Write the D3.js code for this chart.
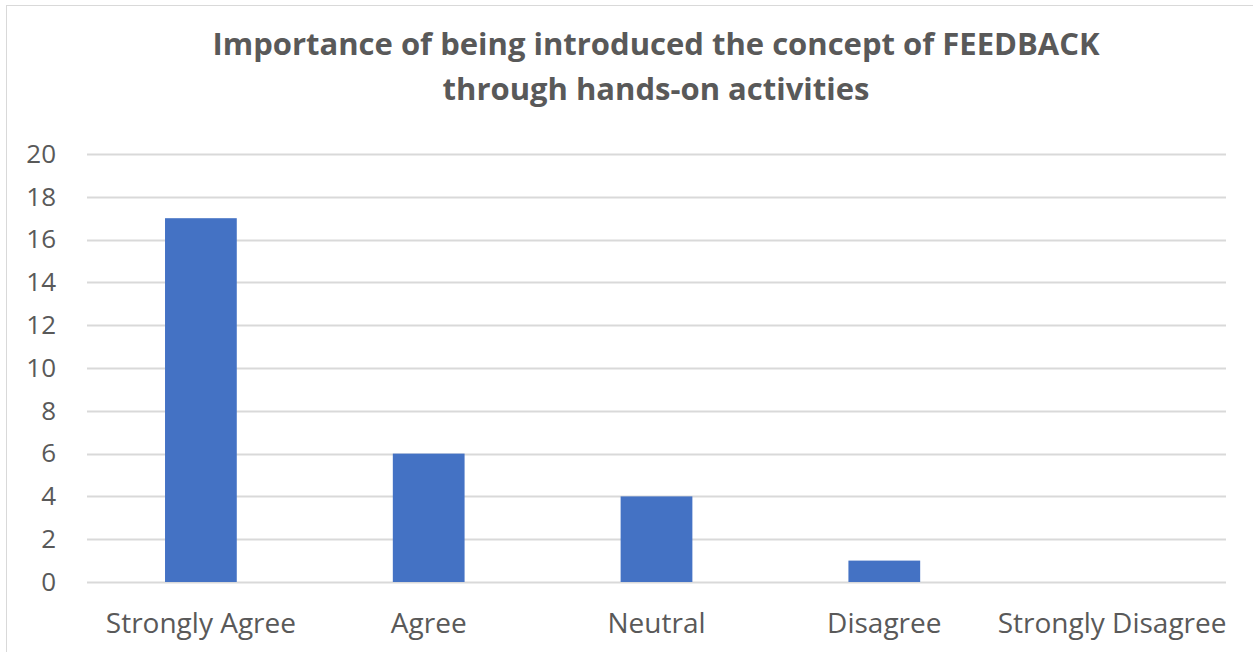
<!DOCTYPE html>
<html>
<head>
<meta charset="utf-8">
<script src="https://cdn.jsdelivr.net/npm/d3@7"></script>
<style>
  html, body { margin: 0; padding: 0; background: #fff; }
  svg { display: block; font-family: "Open Sans", sans-serif; }
</style>
</head>
<body>
<script>
const categories = ["Strongly Agree", "Agree", "Neutral", "Disagree", "Strongly Disagree"];
const counts = [17, 6, 4, 1, 0];
const yTicks = [0, 2, 4, 6, 8, 10, 12, 14, 16, 18, 20];
const titleLines = ["Importance of being introduced the concept of FEEDBACK", "through hands-on activities"];

const width = 1253, height = 652;
const margin = {l: 87, r: 27, t: 154, b: 70};

let svg = d3.select("body").append("svg")
  .attr("width", width)
  .attr("height", height);

// chart border
svg.append("rect")
  .attr("x", 6.5).attr("y", 5.5)
  .attr("width", width).attr("height", height)
  .attr("fill", "none")
  .attr("stroke", "#d9d9d9");

let x = d3.scaleBand().domain(categories)
  .range([margin.l, width - margin.r])
  .paddingInner(0.685).paddingOuter(0.3425);

let y = d3.scaleLinear().domain([0, 20])
  .range([height - margin.b, margin.t]);

// gridlines
svg.append("g")
  .selectAll("line")
  .data(yTicks)
  .join("line")
  .attr("x1", margin.l).attr("x2", width - margin.r)
  .attr("y1", d => Math.round(y(d)) + 0.5)
  .attr("y2", d => Math.round(y(d)) + 0.5)
  .attr("stroke", "#d9d9d9")
  .attr("stroke-width", 2);

// bars
svg.append("g")
  .selectAll("rect")
  .data(counts)
  .join("rect")
  .attr("x", (d, i) => x(categories[i]))
  .attr("y", d => y(d))
  .attr("width", x.bandwidth())
  .attr("height", d => y(0) - y(d))
  .attr("fill", "#4472c4");

// y labels
let yAxis = svg.append("g")
  .attr("transform", `translate(${margin.l - 31},0)`)
  .call(d3.axisLeft(y).tickValues(yTicks).tickSize(0).tickPadding(0));
yAxis.select(".domain").remove();
yAxis.selectAll("text")
  .attr("font-size", 26)
  .attr("font-family", "Open Sans, sans-serif")
  .attr("fill", "#595959");

// x labels
let xAxis = svg.append("g")
  .attr("transform", `translate(0,${height - margin.b})`)
  .call(d3.axisBottom(x).tickSize(0).tickPadding(31));
xAxis.select(".domain").remove();
xAxis.selectAll("text")
  .attr("font-size", 28)
  .attr("font-family", "Open Sans, sans-serif")
  .attr("fill", "#595959");

// title
svg.append("text")
  .attr("x", 656)
  .attr("y", 55)
  .attr("text-anchor", "middle")
  .attr("font-size", 31)
  .attr("font-weight", "bold")
  .attr("fill", "#595959")
  .selectAll("tspan")
  .data(titleLines)
  .join("tspan")
  .attr("x", 656)
  .attr("dy", (d, i) => i ? 45 : 0)
  .text(d => d);
</script>
</body>
</html>
